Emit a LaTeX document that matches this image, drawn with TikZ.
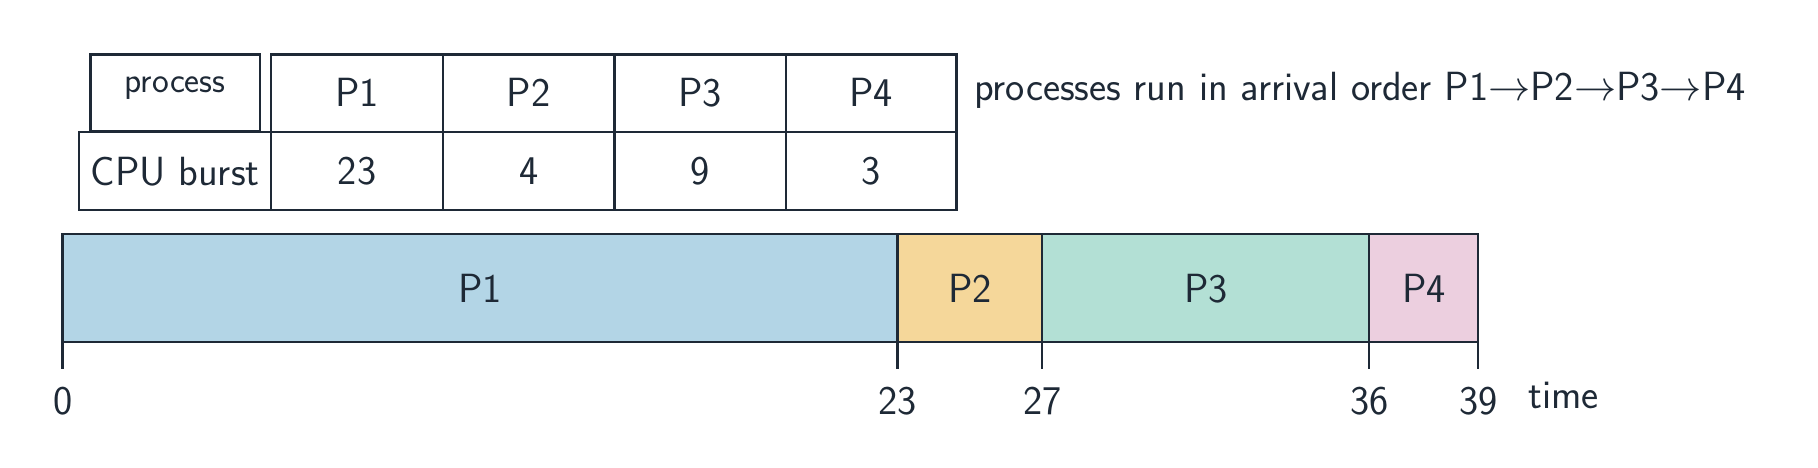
\documentclass[tikz,border=0pt]{standalone}
\begin{document}
\begin{tikzpicture}[x=0.02cm,y=-0.02cm,
  ln/.style={draw=lc,line width=1.1pt},
  cell/.style={ln,minimum width=0pt},
  txt/.style={text=lc,font=\sffamily\fontsize{20}{24}\selectfont}]
\definecolor{lc}{HTML}{1E2936}
\definecolor{cA}{HTML}{B3D5E6}
\definecolor{cB}{HTML}{F5D79A}
\definecolor{cC}{HTML}{B3E0D5}
\definecolor{cD}{HTML}{ECCFDF}
\useasboundingbox (0,0) rectangle (1568,403);
% table
\draw[ln] (78,47) rectangle (224,113);
\node[txt,font=\sffamily\fontsize{17.5}{20}\selectfont] (hp) at (151,76) {process};
\draw[ln] (68,114) rectangle (234,181);
\node[txt] (hc) at (151,148) {CPU burst};
\foreach \a/\b/\n/\v in {234/382/P1/23,382/530/P2/4,530/678/P3/9,678/825/P4/3}{
  \draw[ln] (\a,47) rectangle (\b,114);
  \draw[ln] (\a,114) rectangle (\b,181);
  \node[txt] (h\n) at ({(\a+\b)/2},80) {\n};
  \node[txt] (v\n) at ({(\a+\b)/2},148) {\v};
}
\node[txt,anchor=west] (note) at (834,78) {processes run in arrival order P1$\rightarrow$P2$\rightarrow$P3$\rightarrow$P4};
% gantt
\foreach \a/\b/\n/\c in {54/774/P1/cA,774/899/P2/cB,899/1181/P3/cC,1181/1275/P4/cD}{
  \draw[ln,fill=\c] (\a,202) rectangle (\b,295);
  \node[txt] (g\n) at ({(\a+\b)/2},249) {\n};
}
\foreach \x/\t in {54/0,774/23,899/27,1181/36,1275/39}{
  \draw[ln] (\x,295) -- (\x,318);
  \node[txt] (t\t) at (\x,346) {\t};
}
\node[txt,anchor=west] (time) at (1312,341) {time};
\end{tikzpicture}
\end{document}
